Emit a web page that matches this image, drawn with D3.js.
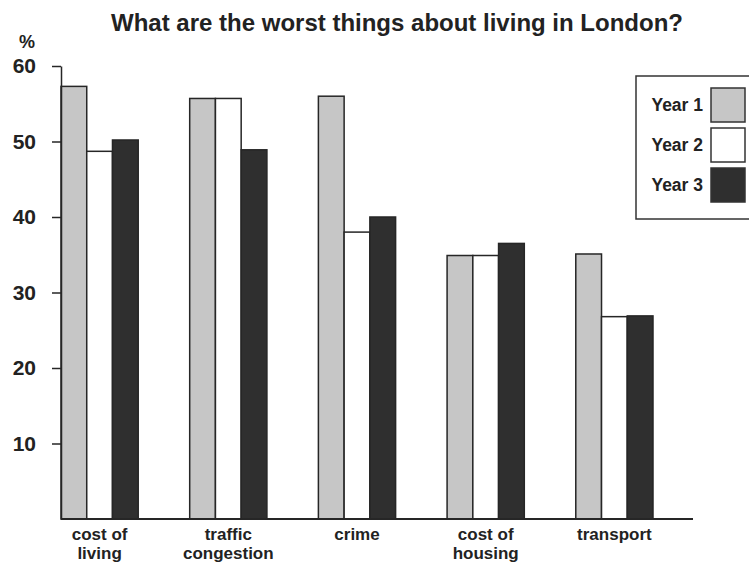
<!DOCTYPE html>
<html>
<head>
<meta charset="utf-8">
<script src="https://cdn.jsdelivr.net/npm/d3@7"></script>
<style>
  html, body { margin: 0; padding: 0; background: #fff; }
  svg { display: block; }
  text { font-family: "Liberation Sans", Arial, Helvetica, sans-serif; font-weight: bold; fill: #222; }
</style>
</head>
<body>
<svg id="chart" width="749" height="566"></svg>
<script>
// Survey categories (two-line labels) and the three yearly series, in percent
const categories = ["cost of living", "traffic congestion", "crime", "cost of housing", "transport"];
const categoryLines = [["cost of", "living"], ["traffic", "congestion"], ["crime"], ["cost of", "housing"], ["transport"]];
const seriesNames = ["Year 1", "Year 2", "Year 3"];
const year1 = [57.3, 55.7, 56.0, 34.9, 35.1];
const year2 = [48.7, 55.7, 38.0, 34.9, 26.8];
const year3 = [50.2, 48.9, 40.0, 36.5, 26.9];
const yTicks = [10, 20, 30, 40, 50, 60];
const seriesColors = ["#c6c6c6", "#ffffff", "#2f2f2f"];

const series = [year1, year2, year3];
const svg = d3.select("#chart");

const y = d3.scaleLinear().domain([0, 60]).range([519, 66]);
const x0 = d3.scaleBand().domain(categories).range([61, 653]).paddingInner(0.4).paddingOuter(0);
const x1 = d3.scaleBand().domain(seriesNames).range([0, x0.bandwidth()]).padding(0);

// Title
svg.append("text")
  .attr("x", 397).attr("y", 31)
  .attr("text-anchor", "middle")
  .style("font-size", "24px")
  .text("What are the worst things about living in London?");

// Unit label
svg.append("text")
  .attr("x", 19).attr("y", 48)
  .style("font-size", "18px")
  .text("%");

// Bars
const groups = svg.append("g").selectAll("g")
  .data(categories)
  .join("g")
  .attr("transform", d => `translate(${x0(d)},0)`);

groups.selectAll("rect")
  .data((d, i) => seriesNames.map((s, j) => ({ s, v: series[j][i], j })))
  .join("rect")
  .attr("x", d => x1(d.s))
  .attr("y", d => y(d.v))
  .attr("width", x1.bandwidth())
  .attr("height", d => y(0) - y(d.v))
  .attr("fill", d => seriesColors[d.j])
  .attr("stroke", "#262626")
  .attr("stroke-width", 1.5);

// Y axis
const yAxis = d3.axisLeft(y).tickValues(yTicks).tickSize(9).tickSizeOuter(0).tickPadding(16);
const ya = svg.append("g").attr("transform", "translate(61,0)").call(yAxis);
ya.select(".domain").attr("stroke", "#262626").attr("stroke-width", 1.5);
ya.selectAll(".tick line").attr("stroke", "#262626").attr("stroke-width", 1.5);
ya.selectAll(".tick text")
  .style("font-size", "21px")
  .style("font-family", "'Liberation Sans', Arial, sans-serif")
  .style("font-weight", "bold")
  .attr("fill", "#222");

// Baseline
svg.append("line")
  .attr("x1", 61).attr("x2", 693)
  .attr("y1", y(0)).attr("y2", y(0))
  .attr("stroke", "#262626").attr("stroke-width", 2);

// Category labels
const labels = svg.append("g").selectAll("text")
  .data(categories)
  .join("text")
  .attr("text-anchor", "middle")
  .attr("x", d => x0(d) + x0.bandwidth() / 2)
  .attr("y", 540)
  .style("font-size", "17px");
labels.each(function(d, i) {
  d3.select(this).selectAll("tspan")
    .data(categoryLines[i])
    .join("tspan")
    .attr("x", x0(d) + x0.bandwidth() / 2)
    .attr("dy", (t, k) => k === 0 ? 0 : 19)
    .text(t => t);
});

// Legend
const legend = svg.append("g");
legend.append("rect")
  .attr("x", 636).attr("y", 76)
  .attr("width", 120).attr("height", 143)
  .attr("fill", "#fff")
  .attr("stroke", "#333").attr("stroke-width", 1.5);
const items = legend.selectAll("g.item")
  .data(seriesNames)
  .join("g")
  .attr("class", "item")
  .attr("transform", (d, i) => `translate(0,${88 + i * 40})`);
items.append("rect")
  .attr("x", 711).attr("y", 0)
  .attr("width", 34).attr("height", 34)
  .attr("fill", (d, i) => seriesColors[i])
  .attr("stroke", "#333").attr("stroke-width", 1.5);
items.append("text")
  .attr("x", 703).attr("y", 23)
  .attr("text-anchor", "end")
  .style("font-size", "17.5px")
  .text(d => d);
</script>
</body>
</html>
